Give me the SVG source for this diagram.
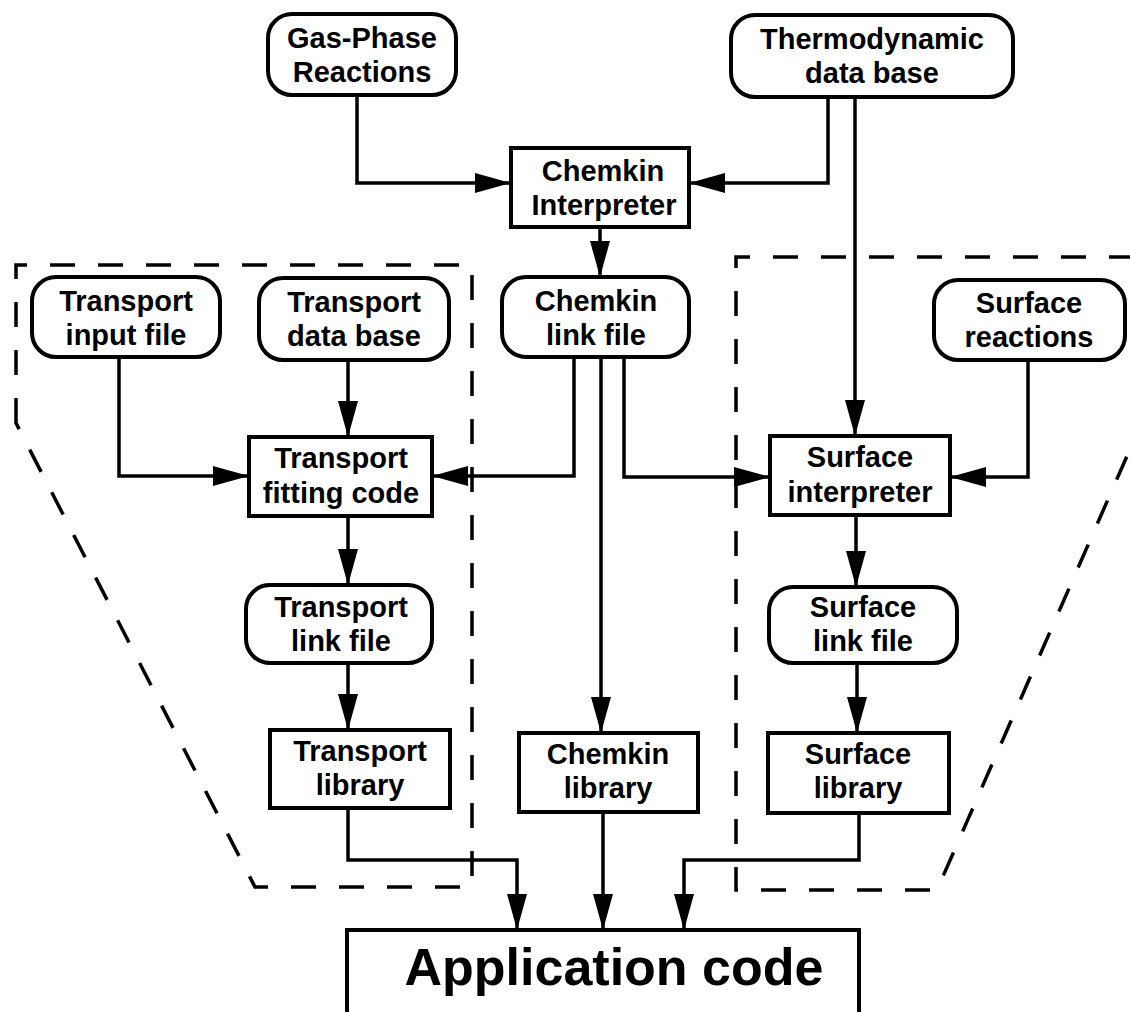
<svg xmlns="http://www.w3.org/2000/svg" width="1130" height="1012" viewBox="0 0 1130 1012">
<defs>
<marker id="ah" markerUnits="userSpaceOnUse" markerWidth="38" markerHeight="22" refX="36" refY="10" orient="auto">
<path d="M0,0 L36,10 L0,20 Z" fill="#000"/>
</marker>
<style>
.box{fill:#fff;stroke:#000;stroke-width:4}
.t{font-family:"Liberation Sans",Arial,sans-serif;font-weight:bold;font-size:29px;text-anchor:middle;fill:#000}
.big{font-size:52px}
.c{fill:none;stroke:#000;stroke-width:3.5;marker-end:url(#ah)}
.d{fill:none;stroke:#000;stroke-width:3.5;stroke-dasharray:25 23}
</style>
</defs>
<rect width="1130" height="1012" fill="#fff"/>
<g id="regions">
<path class="d" d="M16,423 L16,265 L472,265 L472,887 L255,887 Z"/>
<path class="d" d="M1134,257 L736,257 L736,890 L937,890 L1134,440 Z"/>
</g>
<g id="connectors">
<path class="c" d="M357,95 V183 H511"/>
<path class="c" d="M828,97 V183 H689"/>
<path class="c" d="M855,97 V436"/>
<path class="c" d="M600,227 V277"/>
<path class="c" d="M119,357 V476 H249"/>
<path class="c" d="M348,360 V437"/>
<path class="c" d="M574,357 V476 H432"/>
<path class="c" d="M601,357 V733"/>
<path class="c" d="M624,357 V477 H770"/>
<path class="c" d="M1028,360 V477 H950"/>
<path class="c" d="M348,516 V585"/>
<path class="c" d="M856,515 V587"/>
<path class="c" d="M348,663 V730"/>
<path class="c" d="M857,663 V733"/>
<path class="c" d="M348,808 V860 H517 V930"/>
<path class="c" d="M603,812 V930"/>
<path class="c" d="M859,813 V860 H684 V930"/>
</g>
<g id="gas-phase"><rect class="box" x="268" y="14" width="188" height="81" rx="24"/><text class="t" x="362" y="48">Gas-Phase</text><text class="t" x="362" y="82">Reactions</text></g>
<g id="thermo"><rect class="box" x="731" y="15" width="282" height="82" rx="24"/><text class="t" x="872" y="49">Thermodynamic</text><text class="t" x="872" y="83">data base</text></g>
<g id="chemkin-interpreter"><rect class="box" x="511" y="148" width="178" height="79"/><text class="t" x="603" y="181">Chemkin</text><text class="t" x="604" y="215">Interpreter</text></g>
<g id="transport-input"><rect class="box" x="32" y="277" width="188" height="80" rx="24"/><text class="t" x="126" y="311">Transport</text><text class="t" x="126" y="345">input file</text></g>
<g id="transport-db"><rect class="box" x="259" y="278" width="190" height="82" rx="24"/><text class="t" x="354" y="312">Transport</text><text class="t" x="354" y="346">data base</text></g>
<g id="chemkin-link"><rect class="box" x="502" y="277" width="187" height="80" rx="24"/><text class="t" x="596" y="311">Chemkin</text><text class="t" x="596" y="345">link file</text></g>
<g id="surface-reactions"><rect class="box" x="934" y="280" width="191" height="80" rx="24"/><text class="t" x="1029" y="313">Surface</text><text class="t" x="1029" y="347">reactions</text></g>
<g id="transport-fitting"><rect class="box" x="249" y="437" width="183" height="79"/><text class="t" x="341" y="468">Transport</text><text class="t" x="341" y="503">fitting code</text></g>
<g id="surface-interpreter"><rect class="box" x="770" y="436" width="180" height="79"/><text class="t" x="860" y="467">Surface</text><text class="t" x="860" y="502">interpreter</text></g>
<g id="transport-link"><rect class="box" x="246" y="585" width="186" height="78" rx="24"/><text class="t" x="341" y="617">Transport</text><text class="t" x="341" y="651">link file</text></g>
<g id="surface-link"><rect class="box" x="769" y="587" width="188" height="76" rx="24"/><text class="t" x="863" y="617">Surface</text><text class="t" x="863" y="651">link file</text></g>
<g id="transport-library"><rect class="box" x="270" y="730" width="180" height="78"/><text class="t" x="360" y="761">Transport</text><text class="t" x="360" y="795">library</text></g>
<g id="chemkin-library"><rect class="box" x="519" y="733" width="179" height="79"/><text class="t" x="608" y="764">Chemkin</text><text class="t" x="608" y="798">library</text></g>
<g id="surface-library"><rect class="box" x="768" y="733" width="181" height="80"/><text class="t" x="858" y="764">Surface</text><text class="t" x="858" y="798">library</text></g>
<g id="application"><rect class="box" x="347" y="930" width="512" height="86"/><text class="t big" x="614" y="985">Application code</text></g>
</svg>
